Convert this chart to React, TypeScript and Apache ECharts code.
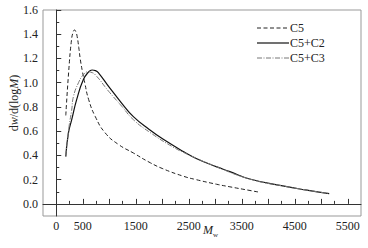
import React, { useEffect, useRef } from "react";
import * as echarts from "echarts";

const seriesNames = ["C5", "C5+C2", "C5+C3"];

const c5Data: [number, number][] = [
  [180, 0.73], [236, 1.1], [287, 1.35], [320, 1.42], [345, 1.435], [370, 1.42],
  [395, 1.38], [425, 1.29], [455, 1.19], [495, 1.09], [537, 1.0], [612, 0.86],
  [737, 0.72], [925, 0.585], [1175, 0.49], [1455, 0.42], [1750, 0.345], [2012, 0.29],
  [2400, 0.228], [2640, 0.2], [3025, 0.162], [3262, 0.142], [3637, 0.112], [3850, 0.095],
];

const c5c2Data: [number, number][] = [
  [180, 0.39], [230, 0.586], [292, 0.695], [385, 0.86], [510, 1.024], [612, 1.09],
  [675, 1.105], [740, 1.1], [800, 1.08], [987, 0.97], [1237, 0.83], [1455, 0.72],
  [1767, 0.61], [2012, 0.535], [2407, 0.43], [2640, 0.375], [3030, 0.305], [3262, 0.268],
  [3650, 0.205], [4275, 0.148], [4700, 0.115], [5150, 0.085],
];

const c5c3Data: [number, number][] = [
  [180, 0.4], [242, 0.64], [290, 0.77], [325, 0.887], [420, 1.0], [510, 1.065],
  [600, 1.09], [650, 1.087], [737, 1.065], [987, 0.93], [1237, 0.805], [1455, 0.695],
  [1767, 0.59], [2200, 0.47], [2500, 0.405], [3030, 0.305], [3650, 0.205], [4275, 0.148],
  [5150, 0.085],
];

const xMajorTicks = [0, 500, 1000, 1500, 2000, 2500, 3000, 3500, 4000, 4500, 5000, 5500];
const xMinorTicks = [250, 750, 1250, 1750, 2250, 2750, 3250, 3750, 4250, 4750, 5250];
const xLabels = [0, 500, 1500, 2500, 3500, 4500, 5500];
const yMajorTicks = [0, 0.2, 0.4, 0.6, 0.8, 1.0, 1.2, 1.4, 1.6];
const yMinorTicks = [0.1, 0.3, 0.5, 0.7, 0.9, 1.1, 1.3, 1.5];

const FONT = "Liberation Serif";
const TEXT = "#222";

const lineStyles = [
  { color: "#222", width: 1, type: [4, 2.5] },
  { color: "#111", width: 1.2, type: "solid" },
  { color: "#777", width: 1, type: [5, 1.5, 1, 1.5] },
];

export default function App() {
  const ref = useRef<HTMLDivElement>(null);
  useEffect(() => {
    const chart = echarts.init(ref.current!, null, { renderer: "svg" });
    const hiddenAxisCommon = {
      axisLine: { show: false },
      axisLabel: { show: false },
      splitLine: { show: false },
    };
    const graphics: any[] = [];
    seriesNames.forEach((n, i) => {
      const y = 28 + i * 15;
      graphics.push({
        type: "line",
        shape: { x1: 257, y1: y, x2: 289, y2: y },
        style: { stroke: lineStyles[i].color, lineWidth: lineStyles[i].width, lineDash: lineStyles[i].type === "solid" ? null : lineStyles[i].type },
      });
      graphics.push({
        type: "text",
        x: 290, y: y,
        style: { text: n, fontFamily: FONT, fontSize: 12, fill: TEXT, verticalAlign: "middle", align: "left" },
      });
    });
    graphics.push({
      type: "text",
      x: 203, y: 222,
      style: {
        text: "{m|M}{s|w}",
        align: "left", verticalAlign: "top",
        rich: {
          m: { fontFamily: FONT, fontStyle: "italic", fontSize: 12, fill: TEXT },
          s: { fontFamily: FONT, fontSize: 7, fill: TEXT, padding: [9, 0, 0, 0] },
        },
      },
    });
    graphics.push({
      type: "text",
      x: 14, y: 103,
      rotation: Math.PI / 2,
      style: {
        text: "{n|d}{i|w}{n|/d(log}{i|M}{n|)}",
        align: "center", verticalAlign: "middle",
        rich: {
          n: { fontFamily: FONT, fontSize: 12, fill: TEXT },
          i: { fontFamily: FONT, fontSize: 12, fontStyle: "italic", fill: TEXT },
        },
      },
    });
    chart.setOption({
      animation: false,
      backgroundColor: "#fff",
      textStyle: { fontFamily: FONT },
      grid: {
        left: 43, right: 7, top: 10, bottom: 32,
        outerBoundsMode: "none",
        containLabel: false,
        show: true, borderColor: "#999", borderWidth: 1, backgroundColor: "transparent",
      },
      graphic: graphics,
      xAxis: [
        {
          type: "value", min: -250, max: 5750, interval: 250, position: "bottom",
          axisLine: { show: true, lineStyle: { color: "#333", width: 1 } },
          axisTick: { show: true, inside: true, length: 5, customValues: xMajorTicks, lineStyle: { color: "#333" } },
          axisLabel: {
            show: true, customValues: xLabels, margin: 4,
            fontFamily: FONT, fontSize: 12, color: TEXT,
            formatter: (v: number) => String(v),
          },
          splitLine: { show: false },
        },
        {
          type: "value", min: -250, max: 5750, interval: 250, position: "bottom",
          ...hiddenAxisCommon,
          axisTick: { show: true, inside: true, length: 3, customValues: xMinorTicks, lineStyle: { color: "#333" } },
        },
      ],
      yAxis: [
        {
          type: "value", min: -0.1, max: 1.6, interval: 0.1, position: "left",
          axisLine: { show: true, lineStyle: { color: "#333", width: 1 } },
          axisTick: { show: true, inside: true, length: 5, customValues: yMajorTicks, lineStyle: { color: "#333" } },
          axisLabel: {
            show: true, customValues: yMajorTicks, margin: 5,
            fontFamily: FONT, fontSize: 12, color: TEXT,
            formatter: (v: number) => v.toFixed(1),
          },
          splitLine: { show: false },
        },
        {
          type: "value", min: -0.1, max: 1.6, interval: 0.1, position: "left",
          ...hiddenAxisCommon,
          axisTick: { show: true, inside: true, length: 3, customValues: yMinorTicks, lineStyle: { color: "#333" } },
        },
      ],
      series: [c5Data, c5c2Data, c5c3Data].map((d, i) => ({
        name: seriesNames[i], type: "line", data: d, showSymbol: false, symbol: "none",
        smooth: 0.5,
        lineStyle: lineStyles[i],
        itemStyle: { color: lineStyles[i].color },
      })),
    });
    return () => chart.dispose();
  }, []);
  return <div ref={ref} style={{ width: 368, height: 248, position: "absolute", left: 0, top: 0 }} />;
}
